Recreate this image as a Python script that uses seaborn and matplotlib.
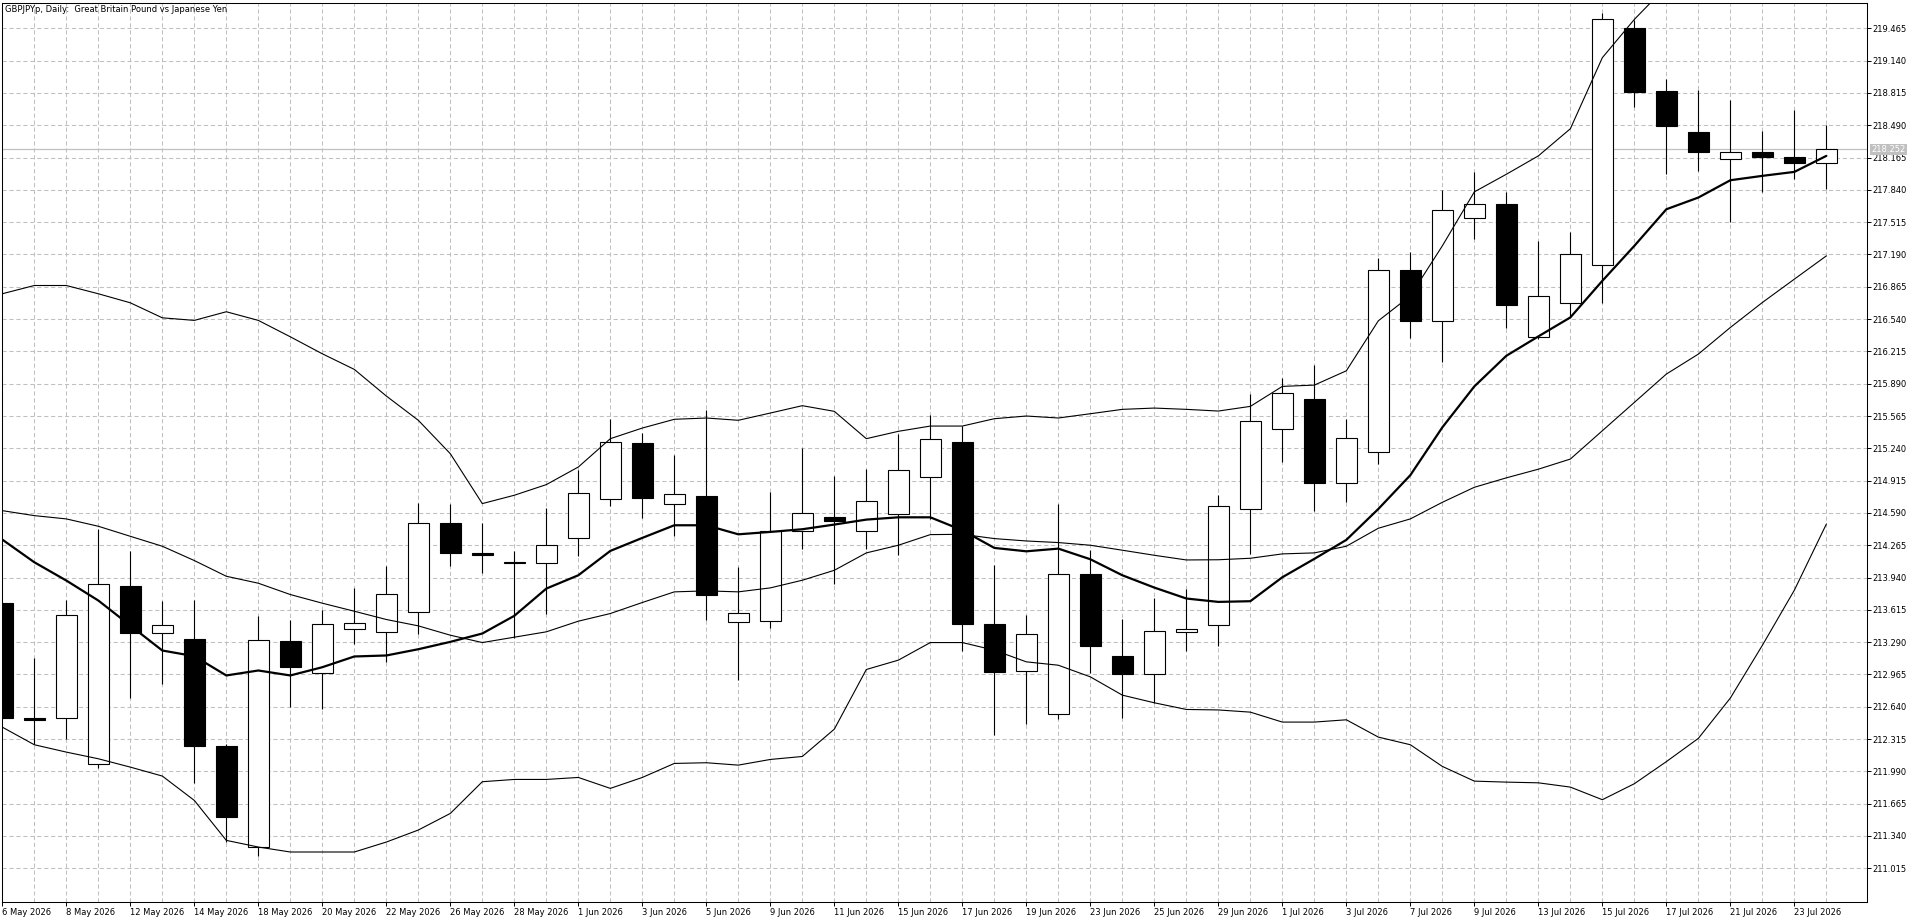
import numpy as np
import pandas as pd
import matplotlib
matplotlib.use("Agg")
import matplotlib.pyplot as plt
import seaborn as sns

# ---------------- data ----------------
dates = [
    "2026-05-06", "2026-05-07", "2026-05-08", "2026-05-11", "2026-05-12", "2026-05-13",
    "2026-05-14", "2026-05-15", "2026-05-18", "2026-05-19", "2026-05-20", "2026-05-21",
    "2026-05-22", "2026-05-25", "2026-05-26", "2026-05-27", "2026-05-28", "2026-05-29",
    "2026-06-01", "2026-06-02", "2026-06-03", "2026-06-04", "2026-06-05", "2026-06-08",
    "2026-06-09", "2026-06-10", "2026-06-11", "2026-06-12", "2026-06-15", "2026-06-16",
    "2026-06-17", "2026-06-18", "2026-06-19", "2026-06-22", "2026-06-23", "2026-06-24",
    "2026-06-25", "2026-06-26", "2026-06-29", "2026-06-30", "2026-07-01", "2026-07-02",
    "2026-07-03", "2026-07-06", "2026-07-07", "2026-07-08", "2026-07-09", "2026-07-10",
    "2026-07-13", "2026-07-14", "2026-07-15", "2026-07-16", "2026-07-17", "2026-07-20",
    "2026-07-21", "2026-07-22", "2026-07-23", "2026-07-24",
]

opens = [213.685, 212.530, 212.526, 212.063, 213.856, 213.380, 213.320, 212.247, 211.229, 213.300,
         212.978, 213.420, 213.390, 213.595, 214.489, 214.190, 214.091, 214.087, 214.339, 214.731,
         215.294, 214.680, 214.761, 213.494, 213.504, 214.409, 214.550, 214.409, 214.580, 214.948,
         215.307, 213.477, 213.001, 212.569, 213.977, 213.152, 212.965, 213.394, 213.464, 214.627,
         215.431, 215.736, 214.888, 215.199, 217.029, 216.523, 217.562, 217.693, 216.355, 216.697,
         217.086, 219.465, 218.832, 218.419, 218.155, 218.225, 218.175, 218.115]

highs = [213.690, 213.132, 213.715, 214.429, 214.205, 213.702, 213.715, 212.268, 213.558, 213.514,
         213.615, 213.833, 214.057, 214.690, 214.680, 214.493, 214.211, 214.644, 215.019, 215.535,
         215.394, 215.176, 215.622, 214.047, 214.804, 215.243, 214.958, 215.036, 215.387, 215.572,
         215.464, 214.070, 213.568, 214.684, 214.221, 213.521, 213.739, 213.829, 214.774, 215.786,
         215.943, 216.077, 215.534, 217.153, 217.220, 217.840, 218.021, 217.820, 217.324, 217.414,
         219.616, 219.549, 218.952, 218.842, 218.741, 218.430, 218.644, 218.490]

lows = [212.520, 212.268, 212.318, 212.023, 212.730, 212.871, 211.869, 211.279, 211.138, 212.633,
        212.616, 213.273, 213.095, 213.370, 214.060, 213.990, 213.333, 213.578, 214.154, 214.657,
        214.536, 214.359, 213.511, 212.914, 213.434, 214.231, 213.873, 214.231, 214.164, 214.533,
        213.199, 212.361, 212.465, 212.516, 212.975, 212.529, 212.680, 213.199, 213.249, 214.178,
        215.106, 214.613, 214.704, 215.082, 216.349, 216.111, 217.344, 216.449, 216.340, 216.557,
        216.697, 218.674, 218.001, 218.027, 217.515, 217.820, 217.954, 217.846]

closes = [212.526, 212.510, 213.561, 213.873, 213.380, 213.461, 212.244, 211.527, 213.310, 213.045,
          213.471, 213.481, 213.772, 214.489, 214.188, 214.170, 214.091, 214.268, 214.791, 215.304,
          214.741, 214.778, 213.762, 213.585, 214.406, 214.590, 214.509, 214.710, 215.025, 215.334,
          213.477, 212.985, 213.373, 213.977, 213.249, 212.965, 213.404, 213.424, 214.660, 215.511,
          215.792, 214.888, 215.340, 217.029, 216.523, 217.642, 217.693, 216.684, 216.768, 217.190,
          219.562, 218.825, 218.483, 218.222, 218.225, 218.175, 218.115, 218.252]

ma_thick = [214.322, 214.094, 213.910, 213.709, 213.457, 213.206, 213.149, 212.955, 213.005, 212.955,
            213.038, 213.146, 213.156, 213.219, 213.293, 213.377, 213.555, 213.829, 213.963, 214.208,
            214.339, 214.466, 214.466, 214.375, 214.399, 214.426, 214.473, 214.523, 214.546, 214.546,
            214.416, 214.238, 214.204, 214.231, 214.124, 213.963, 213.839, 213.729, 213.695, 213.702,
            213.943, 214.128, 214.319, 214.630, 214.970, 215.451, 215.863, 216.171, 216.366, 216.557,
            216.925, 217.277, 217.645, 217.763, 217.937, 217.981, 218.021, 218.182]

band_mid = [214.613, 214.563, 214.530, 214.456, 214.355, 214.255, 214.111, 213.953, 213.883, 213.769,
            213.682, 213.601, 213.518, 213.454, 213.360, 213.286, 213.340, 213.394, 213.501, 213.578,
            213.689, 213.796, 213.806, 213.796, 213.836, 213.913, 214.013, 214.188, 214.265, 214.372,
            214.375, 214.332, 214.308, 214.292, 214.265, 214.215, 214.164, 214.117, 214.119, 214.134,
            214.178, 214.188, 214.255, 214.436, 214.530, 214.697, 214.848, 214.943, 215.030, 215.132,
            215.417, 215.702, 215.987, 216.188, 216.456, 216.707, 216.942, 217.176]

band_up = [216.795, 216.878, 216.878, 216.795, 216.704, 216.553, 216.527, 216.614, 216.527, 216.362,
           216.191, 216.034, 215.766, 215.522, 215.186, 214.684, 214.768, 214.875, 215.052, 215.337,
           215.444, 215.532, 215.545, 215.522, 215.595, 215.669, 215.612, 215.337, 215.411, 215.464,
           215.464, 215.538, 215.565, 215.545, 215.588, 215.632, 215.645, 215.632, 215.615, 215.662,
           215.863, 215.876, 216.020, 216.523, 216.774, 217.277, 217.820, 217.997, 218.182, 218.455,
           219.170, 219.555, 219.886, 220.054, 220.184, 220.156, 220.071, 219.874]

band_low = [212.435, 212.258, 212.184, 212.117, 212.033, 211.943, 211.698, 211.296, 211.229, 211.179,
            211.179, 211.179, 211.279, 211.400, 211.567, 211.886, 211.909, 211.909, 211.929, 211.819,
            211.929, 212.070, 212.077, 212.053, 212.110, 212.140, 212.415, 213.015, 213.109, 213.286,
            213.286, 213.209, 213.092, 213.058, 212.941, 212.757, 212.680, 212.613, 212.608, 212.586,
            212.486, 212.486, 212.509, 212.335, 212.258, 212.040, 211.892, 211.882, 211.875, 211.832,
            211.705, 211.866, 212.088, 212.322, 212.728, 213.258, 213.813, 214.478]

ytick_labels = ["211.015", "211.340", "211.665", "211.990", "212.315", "212.640", "212.965",
                "213.290", "213.615", "213.940", "214.265", "214.590", "214.915", "215.240",
                "215.565", "215.890", "216.215", "216.540", "216.865", "217.190", "217.515",
                "217.840", "218.165", "218.490", "218.815", "219.140", "219.465"]

title_text = "GBPJPYp, Daily:  Great Britain Pound vs Japanese Yen"
last_price = 218.252
last_price_label = "218.252"

# ---------------- styling ----------------
sns.set_style("white")
plt.rcParams['font.family'] = ['DejaVu Sans']
plt.rcParams['lines.scale_dashes'] = False

W, H = 1920, 923
fig = plt.figure(figsize=(W / 100, H / 100), dpi=100)
fig.patch.set_facecolor("white")
ax = fig.add_axes([2 / W, 21 / H, 1865 / W, 899 / H])
ax.set_facecolor("white")

df = pd.DataFrame({
    "i": np.arange(len(dates)),
    "date": pd.to_datetime(dates),
    "open": opens, "high": highs, "low": lows, "close": closes,
    "ma": ma_thick, "mid": band_mid, "up": band_up, "low_b": band_low,
})

grid_kw = dict(color="#c0c0c0", linewidth=0.75, linestyle=(0, (3.0, 2.0)))

# x ticks: labels every 2 bars, grid every bar
xi = df["i"].values
ax.set_xticks(xi[::2])
ax.set_xticks(xi[1::2], minor=True)
ax.set_xticklabels([f"{d.day} {d.strftime('%b %Y')}" for d in df["date"].iloc[::2]])
yt = [float(s) for s in ytick_labels]
ax.set_yticks(yt)
ax.set_yticklabels(ytick_labels)
ax.yaxis.tick_right()
ax.grid(True, which="both", axis="x", **grid_kw)
ax.grid(True, which="major", axis="y", **grid_kw)
ax.set_axisbelow(True)

ax.tick_params(axis="x", which="major", direction="out", length=3, width=0.7, pad=1,
               labelsize=6, colors="black", bottom=True)
ax.tick_params(axis="x", which="minor", length=0)
ax.tick_params(axis="y", which="major", direction="out", length=3, width=0.7, pad=0.6,
               labelsize=6, colors="black", right=True, left=False)
for lbl in ax.get_xticklabels():
    lbl.set_horizontalalignment("left")

for s in ax.spines.values():
    s.set_color("black")
    s.set_linewidth(0.75)
    s.set_visible(True)

# current price line
ax.axhline(last_price, color="#c0c0c0", linewidth=0.9, zorder=1.5)

# candles
o = df["open"].values
c = df["close"].values
bull = c >= o
ax.vlines(xi, df["low"], df["high"], color="black", linewidth=0.8, zorder=3)
heights = np.maximum(np.abs(c - o), 0.004)
ax.bar(xi, heights, bottom=np.minimum(o, c), width=0.655,
       color=np.where(bull, "white", "black"), edgecolor="black", linewidth=0.8, zorder=4)

# indicator lines
for col, lw in [("up", 0.8), ("mid", 0.8), ("low_b", 0.8), ("ma", 1.6)]:
    sns.lineplot(data=df, x="i", y=col, ax=ax, color="black", linewidth=lw,
                 legend=False, zorder=5, estimator=None)

ax.set_xlim(-0.0094, 58.27)
ax.set_ylim(210.676, 219.72)
ax.set_xlabel("")
ax.set_ylabel("")

# title and current price tag
fig.text(5 / W, 1 - 10 / H, title_text, fontsize=6, ha="left", va="center", color="black")
fig.text(1871 / W, 1 - 149.5 / H, last_price_label, fontsize=6, ha="left", va="center",
         color="white", bbox=dict(facecolor="#c0c0c0", edgecolor="none", pad=1.0), zorder=10)

fig.savefig("out.png", dpi=100, facecolor="white")
